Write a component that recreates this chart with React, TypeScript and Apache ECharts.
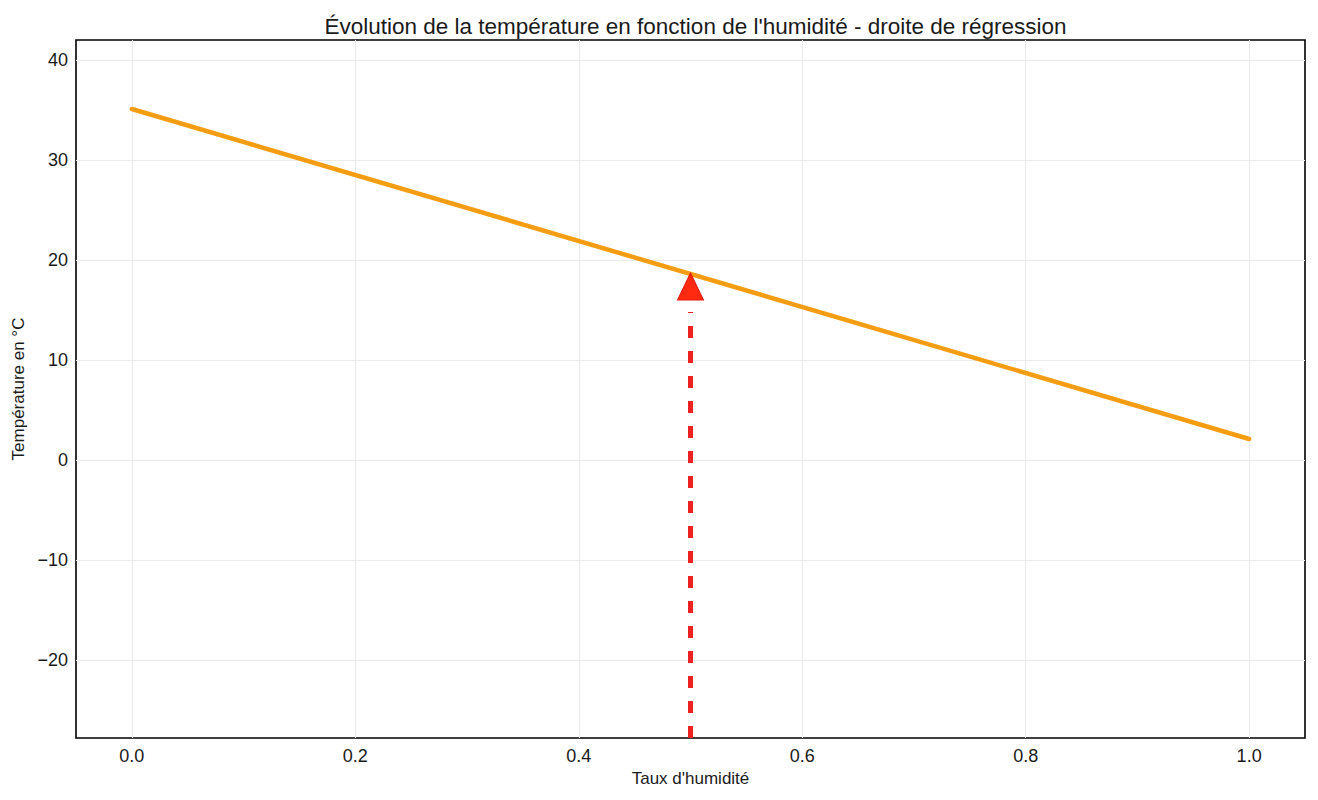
import React, { useEffect, useRef } from "react";
import * as echarts from "echarts";

const titleText = "Évolution de la température en fonction de l'humidité - droite de régression";
const xAxisName = "Taux d'humidité";
const yAxisName = "Température en °C";

const xTicks = [0, 0.2, 0.4, 0.6, 0.8, 1.0];
const yTicks = [-20, -10, 0, 10, 20, 30, 40];
const xRange = [-0.05, 1.05];
const yRange = [-27.8, 42];

const regressionX = [0, 1];
const regressionY = [35.1, 2.1];

const arrowX = 0.5;
const arrowDashY = [-27.8, 14.8];
const arrowHeadY = 17.35;

const FONT = "'Liberation Sans', Arial, Helvetica, sans-serif";

export default function App() {
  const ref = useRef<HTMLDivElement>(null);
  useEffect(() => {
    if (!ref.current) return;
    const chart = echarts.init(ref.current, null, { renderer: "svg" });
    const fmtNum = (v: number) => {
      const s = String(Math.round(v));
      return v < 0 ? "\u2212" + s.replace("-", "") : s;
    };
    chart.setOption({
      animation: false,
      backgroundColor: "#ffffff",
      textStyle: { fontFamily: FONT },
      title: {
        text: titleText,
        left: 690.5,
        top: 10,
        textAlign: "center",
        textStyle: { fontFamily: FONT, fontSize: 22.5, fontWeight: "normal", color: "#1a1a1a" },
      },
      grid: {
        left: 76,
        right: 13,
        top: 40,
        bottom: 62,
        show: true,
        borderColor: "#000000",
        borderWidth: 1.6,
        backgroundColor: "transparent",
      },
      xAxis: {
        type: "value",
        min: xRange[0],
        max: xRange[1],
        name: xAxisName,
        nameLocation: "middle",
        nameGap: 30,
        nameTextStyle: { fontFamily: FONT, fontSize: 17, color: "#1a1a1a" },
        axisLine: { show: false },
        axisTick: { show: false, customValues: xTicks },
        axisLabel: {
          customValues: xTicks,
          formatter: (v: number) => v.toFixed(1),
          fontFamily: FONT,
          fontSize: 18,
          color: "#1a1a1a",
          margin: 9,
        },
        splitLine: { show: true, lineStyle: { color: "#ebebeb", width: 1 } },
      },
      yAxis: {
        type: "value",
        min: yRange[0],
        max: yRange[1],
        name: yAxisName,
        nameLocation: "middle",
        nameRotate: 90,
        nameGap: 47.5,
        nameTextStyle: { fontFamily: FONT, fontSize: 17, color: "#1a1a1a" },
        axisLine: { show: false },
        axisTick: { show: false, customValues: yTicks },
        axisLabel: {
          customValues: yTicks,
          formatter: fmtNum,
          fontFamily: FONT,
          fontSize: 18,
          color: "#1a1a1a",
          margin: 8,
        },
        splitLine: { show: true, lineStyle: { color: "#ebebeb", width: 1 } },
      },
      series: [
        {
          type: "line",
          data: regressionX.map((x, i) => [x, regressionY[i]]),
          showSymbol: false,
          symbol: "none",
          lineStyle: { color: "#f59d12", width: 4.5, cap: "round" },
          z: 3,
        },
        {
          type: "line",
          data: arrowDashY.map((y) => [arrowX, y]),
          showSymbol: false,
          symbol: "none",
          lineStyle: { color: "#ee2222", width: 5, type: [12, 13], cap: "butt" },
          z: 4,
        },
        {
          type: "scatter",
          data: [[arrowX, arrowHeadY]],
          symbol: "triangle",
          symbolSize: [26, 27],
          itemStyle: { color: "#ff2a10", borderColor: "#e01a10", borderWidth: 1, opacity: 1 },
          z: 5,
        },
      ],
    });
    return () => chart.dispose();
  }, []);
  return (
    <div
      ref={ref}
      style={{ position: "fixed", left: 0, top: 0, width: 1318, height: 800, background: "#fff" }}
    />
  );
}
